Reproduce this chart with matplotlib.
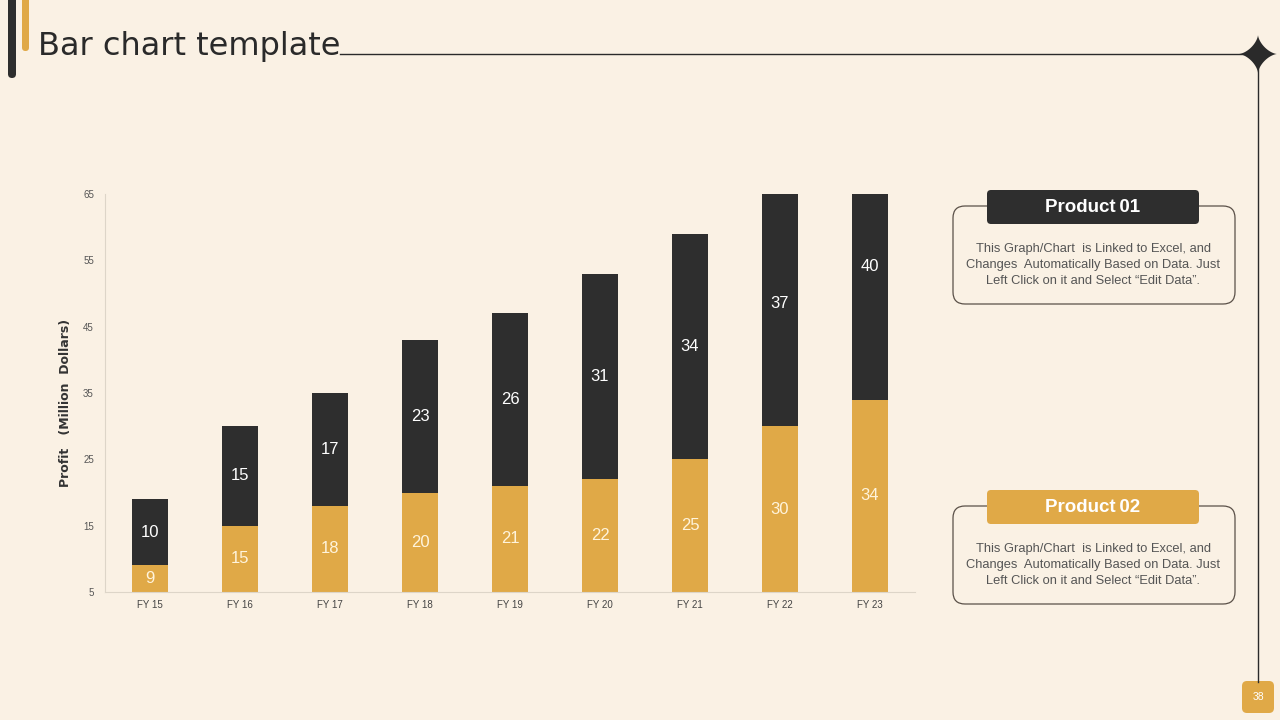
import numpy as np
import matplotlib.pyplot as plt
from matplotlib.patches import FancyBboxPatch, Polygon

# Data
years = ['FY 15', 'FY 16', 'FY 17', 'FY 18', 'FY 19', 'FY 20', 'FY 21', 'FY 22', 'FY 23']
product_02 = [9, 15, 18, 20, 21, 22, 25, 30, 34]
product_01 = [10, 15, 17, 23, 26, 31, 34, 37, 40]
y_ticks = [5, 15, 25, 35, 45, 55, 65]

bg = '#FAF1E4'
gold = '#E0A947'
dark = '#2E2E2E'
desc = 'This Graph/Chart  is Linked to Excel, and\nChanges  Automatically Based on Data. Just\nLeft Click on it and Select \u201cEdit Data\u201d.'

fig = plt.figure(figsize=(12.8, 7.2), dpi=100, facecolor=bg)

# overlay in pixel coords for the slide decoration
deco = fig.add_axes([0, 0, 1, 1], zorder=0)
deco.set_xlim(0, 1280)
deco.set_ylim(720, 0)
deco.axis('off')
deco.patch.set_alpha(0)

deco.add_patch(FancyBboxPatch((8, -10), 8, 88, boxstyle='round,pad=0,rounding_size=4', fc=dark, ec='none'))
deco.add_patch(FancyBboxPatch((22, -10), 7, 61, boxstyle='round,pad=0,rounding_size=3.5', fc=gold, ec='none'))
deco.text(38, 47, 'Bar chart template', fontsize=23, color='#2A2A2A', va='center', ha='left',
          family='DejaVu Sans')
deco.plot([340, 1258], [54, 54], color='#2A2A2A', lw=1.0)
deco.plot([1258, 1258], [54, 682], color='#2A2A2A', lw=1.0)
t = np.linspace(0, 2 * np.pi, 200)
r = 19
deco.add_patch(Polygon(np.column_stack([1258 + r * np.cos(t) ** 3, 54 + r * np.sin(t) ** 3]),
                       closed=True, fc='#2A2A2A', ec='none'))
deco.add_patch(FancyBboxPatch((1242, 681), 32, 32, boxstyle='round,pad=0,rounding_size=5', fc=gold, ec='none'))
deco.text(1258, 697, '38', fontsize=7.5, color='white', ha='center', va='center', family='Liberation Sans')

# text boxes
for top, color, title in [(190, dark, 'Product\u200901'), (490, gold, 'Product\u200902')]:
    deco.add_patch(FancyBboxPatch((953, top + 16), 282, 98, boxstyle='round,pad=0,rounding_size=12',
                                  fc='none', ec='#5A5048', lw=0.9))
    deco.add_patch(FancyBboxPatch((987, top), 212, 34, boxstyle='round,pad=0,rounding_size=4',
                                  fc=color, ec='none'))
    deco.text(1093, top + 17, title, fontsize=13.5, fontweight='bold', color='white',
              ha='center', va='center', family=['Liberation Sans', 'DejaVu Sans'])
    deco.text(1093, top + 75, desc, fontsize=9.3, color='#555555', ha='center', va='center',
              linespacing=1.45, family='Liberation Sans')

# chart
ax = fig.add_axes([105 / 1280, 1 - 592 / 720, 810 / 1280, 398 / 720], zorder=1)
ax.patch.set_alpha(0)
x = np.arange(len(years))
ymin = y_ticks[0]
w = 0.39
ax.bar(x, product_02, width=w, color=gold, zorder=2)
ax.bar(x, product_01, width=w, bottom=product_02, color=dark, zorder=2)
ax.set_xlim(-0.5, len(years) - 0.5)
ax.set_ylim(ymin, y_ticks[-1])
ax.set_yticks(y_ticks)
ax.set_xticks(x)
ax.set_xticklabels(years)
ax.tick_params(axis='both', length=0, labelsize=7, colors='#444444', pad=6)
for lab in ax.get_xticklabels() + ax.get_yticklabels():
    lab.set_family('Liberation Sans')
ax.tick_params(axis='y', pad=8, colors='#555555')
for s in ['top', 'right']:
    ax.spines[s].set_visible(False)
for s in ['left', 'bottom']:
    ax.spines[s].set_color('#DDD5C8')
    ax.spines[s].set_linewidth(0.8)

for i in range(len(years)):
    g = product_02[i]
    d = product_01[i]
    ax.text(x[i], (ymin + g) / 2, str(g), ha='center', va='center', fontsize=12,
            color='#FFF4DC', family='Liberation Sans', zorder=3)
    ax.text(x[i], g + d / 2, str(d), ha='center', va='center', fontsize=12,
            color='white', family='Liberation Sans', zorder=3)

ax.set_ylabel('Profit   (Million  Dollars)', fontsize=9, fontweight='bold', color='#333333',
              labelpad=8, y=0.475)

fig.savefig('out.png', dpi=100, facecolor=bg)
